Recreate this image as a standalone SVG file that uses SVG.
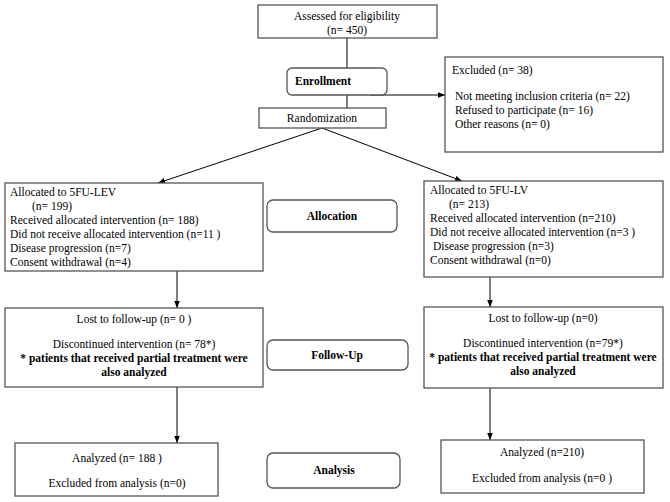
<svg xmlns="http://www.w3.org/2000/svg" width="670" height="502" viewBox="0 0 670 502">
<style>
.box{fill:#fff;stroke:#555;stroke-width:1.3}
.t{font-family:"Liberation Serif","Times New Roman",serif;font-size:11.5px;fill:#000}
.b{font-weight:bold}
.c{text-anchor:middle}
.ln{stroke:#000;stroke-width:1;fill:none}
</style>
<defs>
<marker id="ah" viewBox="0 0 10 10" refX="10" refY="5" markerWidth="7" markerHeight="7" orient="auto" markerUnits="userSpaceOnUse">
<path d="M0,1 L10,5 L0,9 z" fill="#000"/>
</marker>
</defs>
<rect width="670" height="502" fill="#fff"/>
<g id="connectors">
<line class="ln" x1="347" y1="38" x2="347" y2="108"/>
<line class="ln" x1="370" y1="95" x2="445" y2="95" marker-end="url(#ah)"/>
<line class="ln" x1="322" y1="128" x2="158" y2="183" marker-end="url(#ah)"/>
<line class="ln" x1="322" y1="128" x2="462" y2="181" marker-end="url(#ah)"/>
<line class="ln" x1="177" y1="271" x2="177" y2="308" marker-end="url(#ah)"/>
<line class="ln" x1="490" y1="277" x2="490" y2="307" marker-end="url(#ah)"/>
<line class="ln" x1="177" y1="387" x2="177" y2="443" marker-end="url(#ah)"/>
<line class="ln" x1="490" y1="388" x2="490" y2="440" marker-end="url(#ah)"/>
</g>
<g id="assessed">
<rect class="box" x="258" y="5" width="179" height="33"/>
<text class="t c" x="347" y="20">Assessed for eligibility</text>
<text class="t c" x="347" y="34">(n= 450)</text>
</g>
<g id="enrollment">
<rect class="box" x="287" y="68" width="100" height="27" rx="5"/>
<text class="t b" x="295" y="85">Enrollment</text>
</g>
<g id="excluded">
<rect class="box" x="445" y="57" width="218" height="95"/>
<text class="t" x="452" y="74">Excluded  (n= 38)</text>
<text class="t" x="455" y="100">Not meeting inclusion criteria (n= 22)</text>
<text class="t" x="455" y="114">Refused to participate (n= 16)</text>
<text class="t" x="455" y="128">Other reasons  (n= 0)</text>
</g>
<g id="randomization">
<rect class="box" x="259" y="108" width="127" height="20"/>
<text class="t c" x="322" y="122">Randomization</text>
</g>
<g id="alloc-left">
<rect class="box" x="5" y="183" width="258" height="88"/>
<text class="t" x="10" y="196">Allocated to 5FU-LEV</text>
<text class="t" x="32" y="210">(n= 199)</text>
<text class="t" x="10" y="224">Received allocated intervention (n= 188)</text>
<text class="t" x="10" y="238">Did not receive allocated intervention (n=11 )</text>
<text class="t" x="10" y="252">Disease progression (n=7)</text>
<text class="t" x="10" y="266">Consent withdrawal (n=4)</text>
</g>
<g id="allocation">
<rect class="box" x="267" y="200" width="130" height="32" rx="6"/>
<text class="t b c" x="332" y="220">Allocation</text>
</g>
<g id="alloc-right">
<rect class="box" x="424" y="181" width="239" height="96"/>
<text class="t" x="430" y="194">Allocated to 5FU-LV</text>
<text class="t" x="449" y="208">(n= 213)</text>
<text class="t" x="430" y="222">Received allocated intervention (n=210)</text>
<text class="t" x="430" y="236">Did not receive allocated intervention (n=3 )</text>
<text class="t" x="433" y="250">Disease progression (n=3)</text>
<text class="t" x="430" y="264">Consent withdrawal (n=0)</text>
</g>
<g id="followup-left">
<rect class="box" x="5" y="308" width="258" height="79"/>
<text class="t c" x="134" y="323">Lost to follow-up  (n= 0 )</text>
<text class="t c" x="134" y="348">Discontinued intervention (n=  78*)</text>
<text class="t b c" x="134" y="362">* patients that received partial treatment were</text>
<text class="t b c" x="134" y="376">also analyzed</text>
</g>
<g id="followup">
<rect class="box" x="267" y="340" width="141" height="30" rx="6"/>
<text class="t b c" x="337" y="359">Follow-Up</text>
</g>
<g id="followup-right">
<rect class="box" x="424" y="307" width="239" height="81"/>
<text class="t c" x="543" y="322">Lost to follow-up  (n=0)</text>
<text class="t c" x="543" y="347">Discontinued intervention (n=79*)</text>
<text class="t b c" x="543" y="361">* patients that received partial treatment were</text>
<text class="t b c" x="543" y="375">also analyzed</text>
</g>
<g id="analysis-left">
<rect class="box" x="15" y="443" width="203" height="53"/>
<text class="t c" x="117" y="462">Analyzed  (n= 188 )</text>
<text class="t c" x="117" y="487">Excluded from analysis  (n=0)</text>
</g>
<g id="analysis">
<rect class="box" x="267" y="453" width="133" height="35" rx="6"/>
<text class="t b c" x="334" y="474">Analysis</text>
</g>
<g id="analysis-right">
<rect class="box" x="441" y="440" width="203" height="53"/>
<text class="t c" x="542" y="456">Analyzed  (n=210)</text>
<text class="t c" x="542" y="482">Excluded from analysis  (n=0 )</text>
</g>
</svg>
